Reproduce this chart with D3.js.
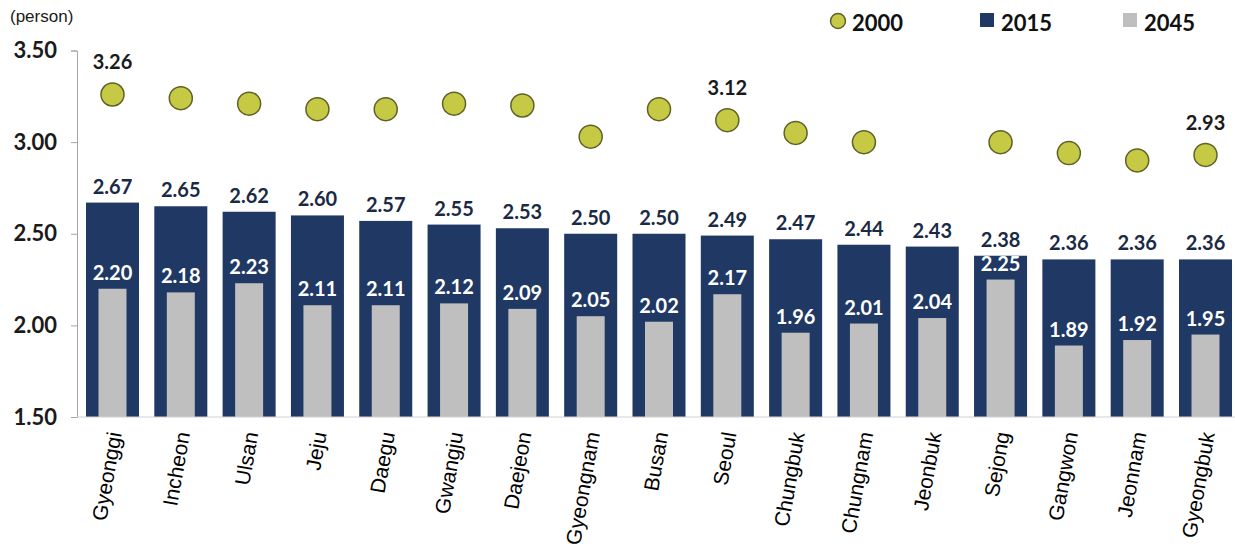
<!DOCTYPE html>
<html>
<head>
<meta charset="utf-8">
<script src="https://cdn.jsdelivr.net/npm/d3@7"></script>
<style>
  body { margin: 0; background: #fff; }
  svg { display: block; }
</style>
</head>
<body>
<svg id="chart" width="1235" height="550"></svg>
<script>
// Average household size by region (persons)
const regions = ['Gyeonggi', 'Incheon', 'Ulsan', 'Jeju', 'Daegu', 'Gwangju', 'Daejeon', 'Gyeongnam',
    'Busan', 'Seoul', 'Chungbuk', 'Chungnam', 'Jeonbuk', 'Sejong', 'Gangwon', 'Jeonnam', 'Gyeongbuk'];
const values2000 = [3.26, 3.24, 3.21, 3.18, 3.18, 3.21, 3.20, 3.03, 3.18, 3.12, 3.05, 3.00, null, 3.00, 2.94, 2.90, 2.93];
const values2015 = [2.67, 2.65, 2.62, 2.60, 2.57, 2.55, 2.53, 2.50, 2.50, 2.49, 2.47, 2.44, 2.43, 2.38, 2.36, 2.36, 2.36];
const values2045 = [2.20, 2.18, 2.23, 2.11, 2.11, 2.12, 2.09, 2.05, 2.02, 2.17, 1.96, 2.01, 2.04, 2.25, 1.89, 1.92, 1.95];
const labelled2000 = ['Gyeonggi', 'Seoul', 'Gyeongbuk'];
const yTicks = [1.50, 2.00, 2.50, 3.00, 3.50];
const legendItems = ['2000', '2015', '2045'];

const colors = { dot: '#c6c944', dotStroke: '#5e6128', navy: '#1f3864', gray: '#bfbfbf', text: '#1a2a44' };
const numFont = 'Lato, "Open Sans", sans-serif';
const catFont = '"Liberation Sans Narrow", "Arial Narrow", "Liberation Sans", sans-serif';

const svg = d3.select('#chart');

const x = d3.scaleBand()
    .domain(regions)
    .range([78, 1240])
    .paddingInner(0.224)
    .paddingOuter(0.117);

const y = d3.scaleLinear()
    .domain([1.5, 3.5])
    .range([417, 50.5]);

const rows = regions.map((r, i) => ({
    region: r, v2000: values2000[i], v2015: values2015[i], v2045: values2045[i]
}));

// Y axis
const yAxis = svg.append('g')
    .attr('transform', 'translate(77,0)')
    .call(d3.axisLeft(y).tickValues(yTicks).tickFormat(d3.format('.2f')).tickSize(6).tickPadding(14));
yAxis.select('.domain').attr('stroke', '#a6a6a6');
yAxis.selectAll('.tick line').attr('stroke', '#a6a6a6');
yAxis.selectAll('.tick text')
    .attr('font-family', numFont)
    .attr('font-weight', 'bold')
    .attr('font-size', '22px')
    .attr('fill', '#1a1a1a');

svg.append('text')
    .attr('x', 10)
    .attr('y', 22)
    .attr('font-family', catFont)
    .attr('font-size', '17px')
    .attr('fill', '#1a1a1a')
    .text('(person)');

// Bars
svg.append('g').selectAll('rect')
    .data(rows)
    .enter()
    .append('rect')
    .attr('x', d => x(d.region))
    .attr('y', d => y(d.v2015))
    .attr('width', x.bandwidth())
    .attr('height', d => y(1.5) - y(d.v2015))
    .attr('fill', colors.navy);

const grayW = 28;
svg.append('g').selectAll('rect')
    .data(rows)
    .enter()
    .append('rect')
    .attr('x', d => x(d.region) + (x.bandwidth() - grayW) / 2)
    .attr('y', d => y(d.v2045))
    .attr('width', grayW)
    .attr('height', d => y(1.5) - y(d.v2045))
    .attr('fill', colors.gray);

// X axis line
svg.append('line')
    .attr('x1', 77).attr('x2', 1240)
    .attr('y1', y(1.5)).attr('y2', y(1.5))
    .attr('stroke', '#d0d0d0');

// Value labels
svg.append('g').selectAll('text')
    .data(rows)
    .enter()
    .append('text')
    .attr('x', d => x(d.region) + x.bandwidth() / 2)
    .attr('y', d => y(d.v2015) - 9)
    .attr('text-anchor', 'middle')
    .attr('font-family', numFont)
    .attr('font-weight', 'bold')
    .attr('font-size', '20px')
    .attr('fill', colors.text)
    .text(d => d.v2015.toFixed(2));

svg.append('g').selectAll('text')
    .data(rows)
    .enter()
    .append('text')
    .attr('x', d => x(d.region) + x.bandwidth() / 2)
    .attr('y', d => y(d.v2045) - 9)
    .attr('text-anchor', 'middle')
    .attr('font-family', numFont)
    .attr('font-weight', 'bold')
    .attr('font-size', '20px')
    .attr('fill', '#ffffff')
    .text(d => d.v2045.toFixed(2));

// 2000 dots
const dotRows = rows.filter(d => d.v2000 !== null);
svg.append('g').selectAll('circle')
    .data(dotRows)
    .enter()
    .append('circle')
    .attr('cx', d => x(d.region) + x.bandwidth() / 2)
    .attr('cy', d => y(d.v2000))
    .attr('r', 11.5)
    .attr('fill', colors.dot)
    .attr('stroke', colors.dotStroke)
    .attr('stroke-width', 1.5);

svg.append('g').selectAll('text')
    .data(dotRows.filter(d => labelled2000.includes(d.region)))
    .enter()
    .append('text')
    .attr('x', d => x(d.region) + x.bandwidth() / 2)
    .attr('y', d => y(d.v2000) - 25)
    .attr('text-anchor', 'middle')
    .attr('font-family', numFont)
    .attr('font-weight', 'bold')
    .attr('font-size', '20px')
    .attr('fill', '#1a1a1a')
    .text(d => d.v2000.toFixed(2));

// Category labels, nearly vertical
svg.append('g').selectAll('text')
    .data(regions)
    .enter()
    .append('text')
    .attr('transform', d => `translate(${x(d) + x.bandwidth() / 2 + 2}, 432) rotate(-80)`)
    .attr('dy', '0.35em')
    .attr('text-anchor', 'end')
    .attr('font-family', catFont)
    .attr('font-size', '21px')
    .attr('fill', '#000')
    .text(d => d);

// Legend
const legendX = [838, 987, 1130];
const legend = svg.append('g').selectAll('g')
    .data(legendItems)
    .enter()
    .append('g')
    .attr('transform', (d, i) => `translate(${legendX[i]}, 21)`);

legend.filter((d, i) => i === 0)
    .append('circle')
    .attr('r', 7.5)
    .attr('fill', colors.dot)
    .attr('stroke', colors.dotStroke)
    .attr('stroke-width', 1.5);

legend.filter((d, i) => i > 0)
    .append('rect')
    .attr('x', -7).attr('y', -8)
    .attr('width', 14).attr('height', 14)
    .attr('fill', (d, i) => i === 0 ? colors.navy : colors.gray);

legend.append('text')
    .attr('x', 14)
    .attr('y', 2)
    .attr('dy', '0.35em')
    .attr('font-family', numFont)
    .attr('font-weight', 'bold')
    .attr('font-size', '22px')
    .attr('fill', '#111')
    .text(d => d);
</script>
</body>
</html>
